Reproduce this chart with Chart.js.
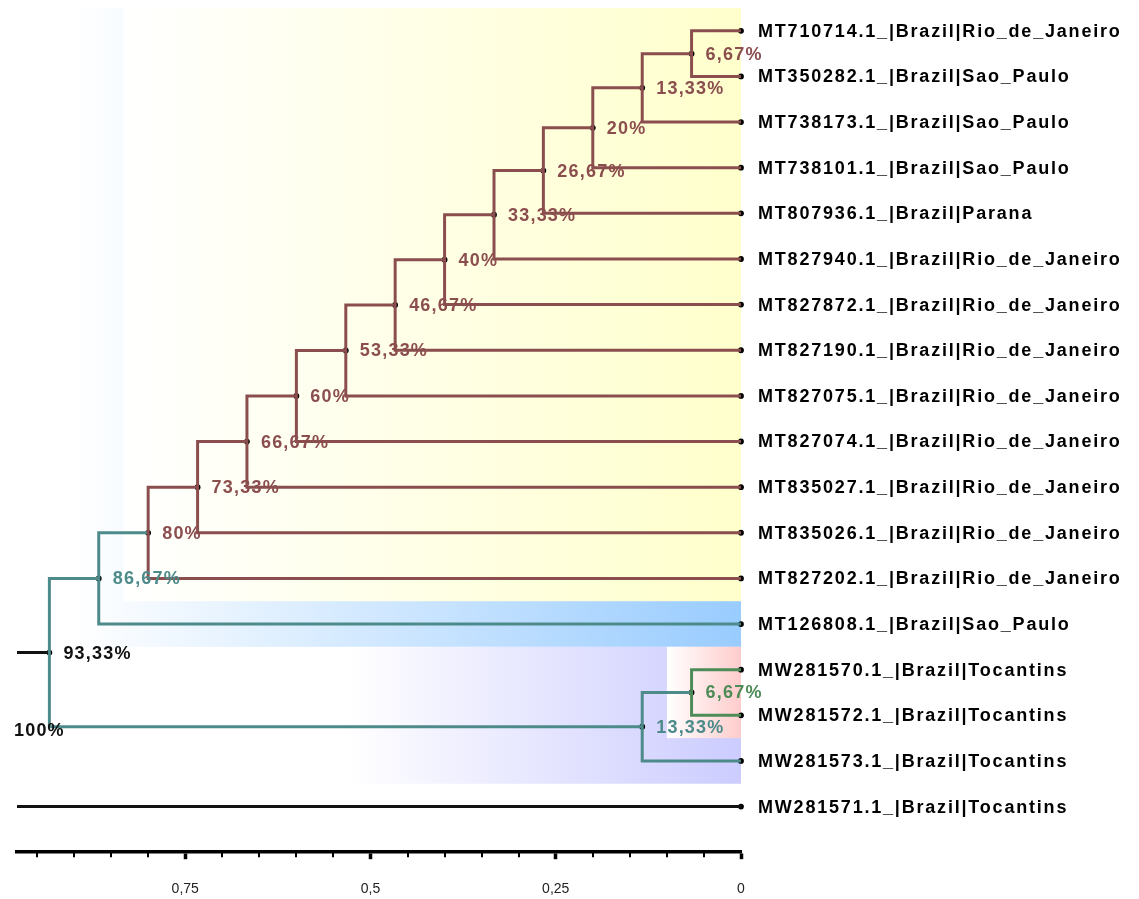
<!DOCTYPE html>
<html lang="en">
<head>
<meta charset="UTF-8">
<title>Phylogenetic tree</title>
<script src="https://cdn.jsdelivr.net/npm/chart.js"></script>
<style>
  html, body { margin: 0; padding: 0; background: #fff; }
</style>
</head>
<body>
<canvas id="tree" width="1139" height="899"></canvas>
<script>
// leaves, top to bottom (row index = position)
const leafNames = [
  'MT710714.1_|Brazil|Rio_de_Janeiro',
  'MT350282.1_|Brazil|Sao_Paulo',
  'MT738173.1_|Brazil|Sao_Paulo',
  'MT738101.1_|Brazil|Sao_Paulo',
  'MT807936.1_|Brazil|Parana',
  'MT827940.1_|Brazil|Rio_de_Janeiro',
  'MT827872.1_|Brazil|Rio_de_Janeiro',
  'MT827190.1_|Brazil|Rio_de_Janeiro',
  'MT827075.1_|Brazil|Rio_de_Janeiro',
  'MT827074.1_|Brazil|Rio_de_Janeiro',
  'MT835027.1_|Brazil|Rio_de_Janeiro',
  'MT835026.1_|Brazil|Rio_de_Janeiro',
  'MT827202.1_|Brazil|Rio_de_Janeiro',
  'MT126808.1_|Brazil|Sao_Paulo',
  'MW281570.1_|Brazil|Tocantins',
  'MW281572.1_|Brazil|Tocantins',
  'MW281573.1_|Brazil|Tocantins',
  'MW281571.1_|Brazil|Tocantins'
];

// internal nodes: height (fraction of tree height) and children ('L' = leaf, 'N' = node)
const nodeHeights = [0.0667, 0.1333, 0.2, 0.2667, 0.3333, 0.4, 0.4667, 0.5333, 0.6,
                     0.6667, 0.7333, 0.8, 0.8667, 0.0667, 0.1333, 0.9333, 1];
const nodeLabels = ['6,67%', '13,33%', '20%', '26,67%', '33,33%', '40%', '46,67%', '53,33%', '60%',
                    '66,67%', '73,33%', '80%', '86,67%', '6,67%', '13,33%', '93,33%', '100%'];
const nodeChildren = [
  ['L0', 'L1'], ['N0', 'L2'], ['N1', 'L3'], ['N2', 'L4'], ['N3', 'L5'], ['N4', 'L6'],
  ['N5', 'L7'], ['N6', 'L8'], ['N7', 'L9'], ['N8', 'L10'], ['N9', 'L11'], ['N10', 'L12'],
  ['N11', 'L13'], ['L14', 'L15'], ['N13', 'L16'], ['N12', 'N14'], ['N15', 'L17']
];

// axis
const tickValues = [0, 0.25, 0.5, 0.75];
const tickLabels = ['0', '0,25', '0,5', '0,75'];
const minorStep = 0.05;
const axisMax = 0.977;

// colours
const BROWN = '#8b4e4e', TEAL = '#4d8a8a', GREEN = '#4e8c57', BLACK = '#111111';
const branchColors = [BROWN, BROWN, BROWN, BROWN, BROWN, BROWN, BROWN, BROWN, BROWN,
                      BROWN, BROWN, BROWN, TEAL, GREEN, TEAL, TEAL, BLACK];
const labelColors = [BROWN, BROWN, BROWN, BROWN, BROWN, BROWN, BROWN, BROWN, BROWN,
                     BROWN, BROWN, BROWN, TEAL, GREEN, TEAL, BLACK, BLACK];
const cladeShades = [
  { node: 12, color: 'rgb(153,204,255)' },
  { node: 11, color: 'rgb(255,255,204)' },
  { node: 14, color: 'rgb(204,204,255)' },
  { node: 13, color: 'rgb(255,204,204)' }
];

function idx(r) { return +r.slice(1); }
function refHeight(r) { return r[0] === 'L' ? 0 : nodeHeights[idx(r)]; }
function refY(r) {
  if (r[0] === 'L') return idx(r);
  const c = nodeChildren[idx(r)];
  return (refY(c[0]) + refY(c[1])) / 2;
}
function refLeaves(r) {
  if (r[0] === 'L') return [idx(r)];
  const c = nodeChildren[idx(r)];
  return refLeaves(c[0]).concat(refLeaves(c[1]));
}
function parentOf(r) { return nodeChildren.findIndex(c => c.includes(r)); }

// one elbow path per internal node
const datasets = nodeChildren.map((c, i) => ({
  data: [
    { x: refHeight(c[0]), y: refY(c[0]) },
    { x: nodeHeights[i], y: refY(c[0]) },
    { x: nodeHeights[i], y: refY(c[1]) },
    { x: refHeight(c[1]), y: refY(c[1]) }
  ],
  showLine: true,
  borderColor: branchColors[i],
  borderWidth: 3,
  borderCapStyle: 'butt',
  borderJoinStyle: 'miter',
  pointRadius: 0
}));

// node and tip dots
const dots = [];
nodeChildren.forEach((c, i) => {
  if (nodeHeights[i] <= axisMax) dots.push({ x: nodeHeights[i], y: refY('N' + i) });
});
leafNames.forEach((n, i) => dots.push({ x: 0, y: i }));
datasets.push({
  data: dots, pointRadius: 2.9, pointBackgroundColor: '#000', pointBorderWidth: 0, clip: false
});

const minorTicks = [];
for (let v = 0; v < axisMax; v += minorStep) minorTicks.push(Math.round(v * 100) / 100);
function isMajor(v) { return tickValues.some(t => Math.abs(t - v) < 1e-6); }

const treeDecor = {
  id: 'treeDecor',
  beforeDatasetsDraw(chart) {
    const { ctx, scales: { x, y } } = chart;
    ctx.save();
    cladeShades.forEach(s => {
      const r = 'N' + s.node;
      const lv = refLeaves(r);
      const p = parentOf(r);
      const x0 = x.getPixelForValue((nodeHeights[s.node] + nodeHeights[p]) / 2);
      const x1 = x.getPixelForValue(0);
      const y0 = y.getPixelForValue(Math.min(...lv) - 0.5);
      const y1 = y.getPixelForValue(Math.max(...lv) + 0.5);
      const g = ctx.createLinearGradient(x0, 0, x1, 0);
      g.addColorStop(0, '#ffffff');
      g.addColorStop(1, s.color);
      ctx.fillStyle = g;
      ctx.fillRect(x0, y0, x1 - x0, y1 - y0);
    });
    ctx.restore();
  },
  afterDatasetsDraw(chart) {
    const { ctx, chartArea, scales: { x, y } } = chart;
    ctx.save();
    ctx.textBaseline = 'middle';
    ctx.textAlign = 'left';
    // node labels
    ctx.font = 'bold 18px "Liberation Sans", Arial, sans-serif';
    ctx.letterSpacing = '1.2px';
    nodeLabels.forEach((t, i) => {
      ctx.fillStyle = labelColors[i];
      ctx.fillText(t, x.getPixelForValue(nodeHeights[i]) + 14, y.getPixelForValue(refY('N' + i)) + 1);
    });
    // tip labels
    ctx.fillStyle = '#000';
    ctx.letterSpacing = '1.8px';
    leafNames.forEach((t, i) => {
      ctx.fillText(t, x.getPixelForValue(0) + 17, y.getPixelForValue(i) + 1);
    });
    // minor ticks
    ctx.letterSpacing = '0px';
    ctx.strokeStyle = '#000';
    ctx.lineWidth = 2;
    minorTicks.filter(v => !isMajor(v)).forEach(v => {
      const px = Math.round(x.getPixelForValue(v));
      ctx.beginPath();
      ctx.moveTo(px, chartArea.bottom);
      ctx.lineTo(px, chartArea.bottom + 5);
      ctx.stroke();
    });
    ctx.restore();
  }
};

new Chart(document.getElementById('tree'), {
  type: 'scatter',
  data: { datasets: datasets },
  options: {
    responsive: false,
    animation: false,
    events: [],
    layout: { padding: { left: 17, right: 398, top: 8, bottom: -21 } },
    plugins: { legend: { display: false }, tooltip: { enabled: false } },
    scales: {
      x: {
        type: 'linear',
        reverse: true,
        min: 0,
        max: axisMax,
        afterBuildTicks: s => { s.ticks = minorTicks.map(v => ({ value: v })); },
        ticks: {
          autoSkip: false,
          maxRotation: 0,
          padding: 22,
          color: '#222',
          font: { size: 14, family: '"Liberation Sans", Arial, sans-serif' },
          callback: v => {
            const k = tickValues.findIndex(t => Math.abs(t - v) < 1e-6);
            return k < 0 ? '' : tickLabels[k];
          }
        },
        grid: {
          drawOnChartArea: false,
          drawTicks: true,
          tickLength: 7,
          tickColor: '#000',
          tickWidth: c => (c.tick && isMajor(c.tick.value) ? 3.5 : 0)
        },
        border: { display: true, color: '#000', width: 3.5 }
      },
      y: { type: 'linear', reverse: true, min: -0.5, max: 18, display: false }
    }
  },
  plugins: [treeDecor]
});
</script>
</body>
</html>
